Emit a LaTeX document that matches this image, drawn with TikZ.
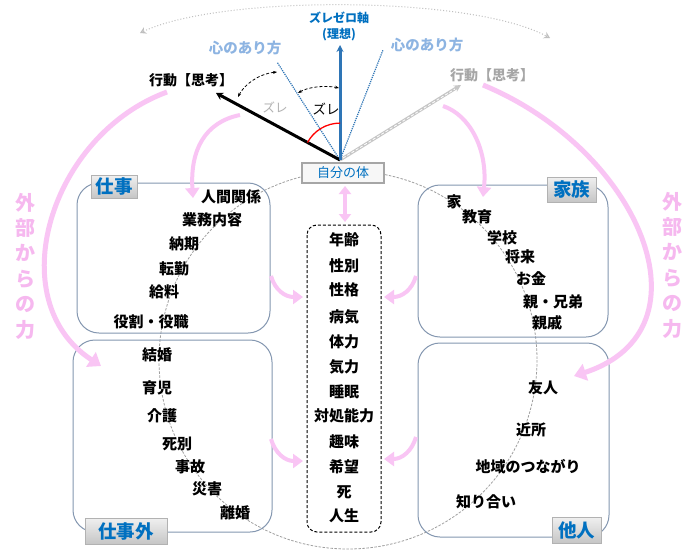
\documentclass[tikz,border=0pt]{standalone}
\usepackage{fontspec}
\setmainfont{Noto Sans CJK JP}
\usetikzlibrary{arrows.meta}
\definecolor{pinkA}{HTML}{F9C5F4}
\definecolor{pinkT}{HTML}{F6B8EF}
\definecolor{axisblue}{HTML}{2E75B6}
\definecolor{darkblue}{HTML}{0070C0}
\definecolor{lightblue}{HTML}{8DB4E2}
\definecolor{boxline}{HTML}{8497B0}
\begin{document}
\begin{tikzpicture}[x=1pt,y=-1pt,
  item/.style={font=\bfseries\fontsize{15}{17}\selectfont, inner sep=0pt},
  grpbox/.style={draw=boxline, line width=1pt, rounded corners=22pt},
  grplabel/.style={draw=gray!60, top color=gray!12, bottom color=gray!45, text=darkblue,
     font=\bfseries\fontsize{18.5}{20}\selectfont, inner sep=0pt, minimum height=25pt},
  pinkbig/.style={draw=pinkA, line width=5pt, -{Triangle[length=12pt,width=17pt]}},
  pinksmall/.style={draw=pinkA, line width=4pt, -{Triangle[length=10pt,width=14pt]}},
  zure/.style={densely dashed, line width=0.8pt, {Stealth[length=4pt]}-{Stealth[length=4pt]}},
  outer/.style={font=\bfseries\fontsize{20}{25.4}\selectfont, text=pinkT, align=center, inner sep=0pt}]
\useasboundingbox (0,0) rectangle (698,554);
\fill[white] (0,0) rectangle (698,554);

% big dashed circle
\draw[gray!75, dash pattern=on 2.5pt off 1.5pt, line width=0.8pt] (348,360) circle[radius=189];

% group boxes
\draw[grpbox] (77,183) rectangle (270,333);
\draw[grpbox] (73,340) rectangle (272,532);
\draw[grpbox] (418,185) rectangle (608,337);
\draw[grpbox] (418,343) rectangle (609,537);

% top-left items
\node[item] (w1) at (231,197) {人間関係};
\node[item] (w2) at (212,220) {業務内容};
\node[item] (w3) at (184,244) {納期};
\node[item] (w4) at (174,269) {転勤};
\node[item] (w5) at (164,292) {給料};
\node[item] (w6) at (151,322) {役割・役職};
% bottom-left items
\node[item] (p1) at (157,355) {結婚};
\node[item] (p2) at (157,388) {育児};
\node[item] (p3) at (162,416) {介護};
\node[item] (p4) at (177,444) {死別};
\node[item] (p5) at (190,467) {事故};
\node[item] (p6) at (207,489) {災害};
\node[item] (p7) at (235,513) {離婚};
% top-right items
\node[item] (f1) at (454,202) {家};
\node[item] (f2) at (477,217) {教育};
\node[item] (f3) at (502,238) {学校};
\node[item] (f4) at (520,257) {将来};
\node[item] (f5) at (531,279) {お金};
\node[item] (f6) at (553,302) {親・兄弟};
\node[item] (f7) at (547,323) {親戚};
% bottom-right items
\node[item] (o1) at (543,388) {友人};
\node[item] (o2) at (531,430) {近所};
\node[item] (o3) at (528,467) {地域のつながり};
\node[item] (o4) at (486,502) {知り合い};

% group labels
\node[grplabel, minimum width=46pt, minimum height=23pt] (lw) at (114,186.5) {仕事};
\node[grplabel, minimum width=49pt] (lf) at (571.5,189.5) {家族};
\node[grplabel, minimum width=82pt, minimum height=26pt] (lp) at (126,531) {仕事外};
\node[grplabel, minimum width=49pt, minimum height=26pt] (lo) at (576.5,530) {他人};

% center column
\draw[densely dashed, line width=1pt, rounded corners=10pt] (307,225) rectangle (381,532);
\node[item] (c1) at (344,240) {年齢};
\node[item] (c2) at (344,266) {性別};
\node[item] (c3) at (344,290) {性格};
\node[item] (c4) at (344,317) {病気};
\node[item] (c5) at (344,342) {体力};
\node[item] (c6) at (344,367) {気力};
\node[item] (c7) at (344,392) {睡眠};
\node[item] (c8) at (344,416) {対処能力};
\node[item] (c9) at (344,442) {趣味};
\node[item] (c10) at (344,467) {希望};
\node[item] (c11) at (344,492) {死};
\node[item] (c12) at (344,516) {人生};

% outside force labels
\node[outer] (efl) at (25,266) {外\\部\\か\\ら\\の\\力};
\node[outer] (efr) at (672,265) {外\\部\\か\\ら\\の\\力};

% pink arrows
\draw[pinkbig] (167,92) .. controls (50,135) and (0,300) .. (101,366);
\draw[pinkbig] (483,85) .. controls (640,150) and (715,330) .. (574,376);
\draw[pinksmall] (240,115) .. controls (205,122) and (190,150) .. (193,198);
\draw[pinksmall] (443,106) .. controls (470,115) and (488,150) .. (483,197);
\draw[pinksmall] (271,276) .. controls (275,290) and (285,297) .. (303,297);
\draw[pinksmall] (416,276) .. controls (412,290) and (402,297) .. (384,297);
\draw[pinksmall] (271,439) .. controls (275,453) and (285,461) .. (303,461);
\draw[pinksmall] (416,437) .. controls (412,451) and (402,459) .. (384,459);
\draw[draw=pinkA, line width=4pt, {Triangle[length=8pt,width=12pt]}-{Triangle[length=8pt,width=12pt]}] (345,186) -- (345,222);

% axis and directions
\coordinate (O) at (340,160);
\coordinate (axisTop) at (340,45);
\coordinate (hl) at (277,62);
\coordinate (hr) at (383,50);
\coordinate (actL) at (216,93);
\coordinate (actR) at (461,85);
\draw[axisblue, densely dotted, line width=1.2pt] (O) -- (hl);
\draw[axisblue, densely dotted, line width=1.2pt] (O) -- (hr);
\draw[gray!45, line width=3pt, -{Stealth[length=7pt,width=7pt]}] (O) -- (actR);
\draw[white, line width=0.8pt, dash pattern=on 3pt off 2pt] (343,158) -- (455,89);
\draw[black, line width=3pt, -{Stealth[length=7pt,width=8pt]}] (O) -- (actL);
\draw[axisblue, line width=3pt, -{Stealth[length=7pt,width=7pt]}] (O) -- (axisTop);
\draw[red, line width=1.3pt] (307.5,142.5) arc[start angle=208.4, end angle=270, radius=37];

\draw[zure] (238,97) .. controls (244,85) and (258,74) .. (277,72);
\draw[zure] (298,93) .. controls (308,87) and (325,85) .. (339,88);

\node[font=\bfseries\fontsize{12}{16}\selectfont, text=darkblue, align=center, inner sep=0pt] (axislbl) at (339,26) {ズレゼロ軸\\(理想)};
\node[font=\bfseries\fontsize{14.5}{16}\selectfont, text=lightblue, inner sep=0pt] (heartL) at (245,48) {心のあり方};
\node[font=\bfseries\fontsize{14.5}{16}\selectfont, text=lightblue, inner sep=0pt] (heartR) at (427,45) {心のあり方};
\node[font=\bfseries\fontsize{14}{16}\selectfont, inner sep=0pt] (actLlbl) at (191,80) {行動【思考】};
\node[font=\bfseries\fontsize{14}{16}\selectfont, text=gray!70, inner sep=0pt] (actRlbl) at (492,75) {行動【思考】};
\node[font=\fontsize{12.5}{14}\selectfont, text=gray!60, inner sep=0pt] (z1) at (275,107) {ズレ};
\node[font=\fontsize{13.5}{14}\selectfont, inner sep=0pt] (z2) at (326,109) {ズレ};

% self body
\node[draw=gray!70, line width=1.2pt, fill=gray!6, text=darkblue, minimum width=82pt, minimum height=20pt, inner sep=0pt,
  font=\fontsize{13}{14}\selectfont] (body) at (343,173) {自分の体};

% top grey dotted arc
\draw[gray!50, dotted, line width=1pt, {Stealth[open,length=6pt,width=7pt]}-{Stealth[open,length=6pt,width=7pt]}] (140,33) .. controls (220,-5) and (470,-5) .. (550,38);
\end{tikzpicture}
\end{document}
